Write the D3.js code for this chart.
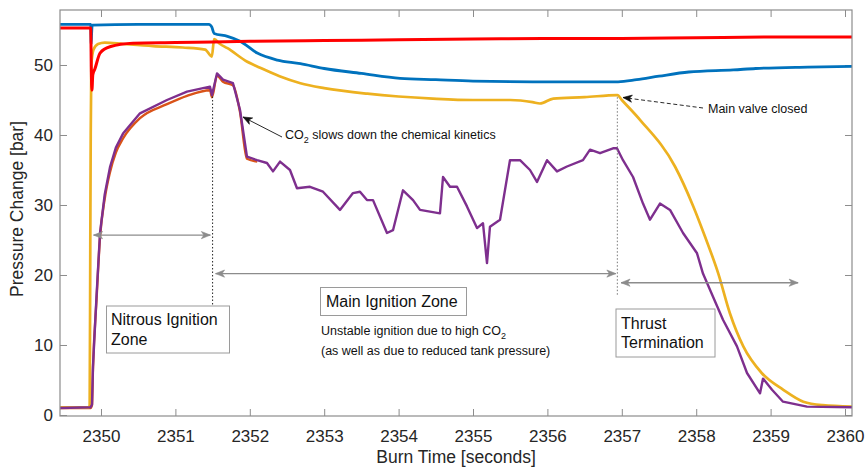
<!DOCTYPE html>
<html>
<head>
<meta charset="utf-8">
<script src="https://cdn.jsdelivr.net/npm/d3@7/dist/d3.min.js"></script>
<style>
  html, body { margin: 0; padding: 0; background: #fff; }
  svg { display: block; font-family: "Liberation Sans", Arial, Helvetica, sans-serif; }
</style>
</head>
<body>
<svg id="chart" width="866" height="468"></svg>
<script>
// ---------------- DATA ----------------
const xTickValues = [2350, 2351, 2352, 2353, 2354, 2355, 2356, 2357, 2358, 2359, 2360];
const yTickValues = [0, 10, 20, 30, 40, 50];

const blueTime = [2349.449, 2349.862, 2349.868, 2349.874, 2349.882, 2350.5, 2351.0, 2351.45, 2351.49, 2351.52,
  2351.7, 2351.87, 2352.1, 2352.37, 2352.68, 2353.0, 2353.5, 2354.02, 2354.5, 2355.0, 2355.8, 2356.5, 2356.95,
  2357.2, 2357.5, 2357.9, 2358.5, 2358.8, 2359.5, 2360.094];
const bluePressure = [55.8, 55.8, 53.0, 54.5, 55.7, 55.8, 55.8, 55.8, 55.4, 54.5,
  54.1, 53.4, 51.7, 50.7, 50.2, 49.5, 48.8, 48.1, 47.9, 47.7, 47.6, 47.6, 47.6,
  47.9, 48.4, 49.0, 49.3, 49.5, 49.7, 49.8];

const redTime = [2349.449, 2349.862, 2349.870, 2349.878, 2349.890, 2349.92, 2349.987, 2350.12, 2350.43,
  2351.0, 2351.5, 2352.0, 2353.0, 2354.0, 2355.0, 2356.0, 2357.0, 2358.0, 2359.0, 2360.094];
const redPressure = [55.3, 55.3, 49.0, 46.4, 48.6, 49.5, 51.7, 52.6, 53.1,
  53.2, 53.3, 53.4, 53.5, 53.6, 53.7, 53.8, 53.8, 53.9, 54.0, 54.0];

const yellowTime = [2349.449, 2349.835, 2349.848, 2349.856, 2349.862, 2349.870, 2349.90, 2349.96, 2350.05,
  2350.3, 2350.7, 2351.1, 2351.40, 2351.49, 2351.52, 2351.6, 2351.7, 2351.96, 2352.14, 2352.4, 2352.68,
  2353.0, 2353.58, 2354.0, 2354.46, 2355.0, 2355.5, 2355.8, 2355.9, 2356.08, 2356.5, 2356.94, 2357.0, 2357.25,
  2357.715, 2357.961, 2358.118, 2358.297, 2358.454, 2358.633, 2358.88, 2359.171, 2359.44, 2359.7, 2360.094];
const yellowPressure = [1.1, 1.1, 1.4, 24.0, 40.0, 50.0, 52.2, 53.0, 53.2,
  53.0, 52.7, 52.5, 52.2, 51.2, 53.7, 53.0, 52.4, 50.5, 49.6, 48.4, 47.4,
  46.7, 45.9, 45.5, 45.2, 45.0, 45.0, 44.7, 44.5, 45.2, 45.4, 45.7, 45.0, 42.1,
  35.5, 29.8, 25.5, 20.2, 14.5, 9.8, 6.0, 3.6, 1.9, 1.4, 1.2];

const purpleTime = [2349.449, 2349.86, 2349.879, 2349.892, 2349.94, 2349.987, 2350.05, 2350.121, 2350.2, 2350.296,
  2350.524, 2350.887, 2351.156, 2351.465, 2351.492, 2351.559, 2351.640, 2351.774, 2351.868, 2351.962,
  2352.097, 2352.231, 2352.312, 2352.406, 2352.540, 2352.634, 2352.809, 2352.984, 2353.212, 2353.387,
  2353.481, 2353.575, 2353.656, 2353.844, 2353.925, 2354.059, 2354.194, 2354.288, 2354.556, 2354.597,
  2354.691, 2354.785, 2354.919, 2355.054, 2355.134, 2355.188, 2355.228, 2355.363, 2355.497, 2355.632,
  2355.766, 2355.860, 2355.995, 2356.129, 2356.263, 2356.478, 2356.573, 2356.707, 2356.882, 2356.935,
  2357.016, 2357.151, 2357.285, 2357.379, 2357.513, 2357.648, 2357.823, 2358.011, 2358.091, 2358.226,
  2358.360, 2358.548, 2358.683, 2358.858, 2358.898, 2359.019, 2359.167, 2359.489, 2360.094];
const purplePressure = [1.0, 1.1, 1.5, 6.9, 17.0, 26.0, 31.5, 35.4, 38.2, 40.2,
  43.1, 45.0, 46.2, 46.9, 45.7, 48.8, 47.9, 47.4, 43.6, 36.9,
  36.4, 36.0, 34.8, 36.2, 35.0, 32.4, 32.6, 31.9, 29.3, 31.7,
  31.9, 30.7, 30.7, 26.0, 26.4, 32.1, 30.7, 29.3, 28.8, 34.0,
  32.6, 32.6, 29.8, 26.7, 27.4, 21.7, 26.9, 27.9, 36.4, 36.4,
  35.0, 33.3, 36.4, 34.8, 35.5, 36.4, 37.9, 37.4, 38.1, 38.1,
  36.4, 34.0, 30.2, 27.9, 30.2, 29.3, 26.0, 23.1, 20.2, 16.9,
  13.6, 9.8, 6.0, 3.1, 5.2, 3.6, 1.9, 1.2, 1.1];

const orangeTime = [2349.449, 2349.86, 2349.879, 2349.892, 2349.94, 2349.987, 2350.05, 2350.121, 2350.2, 2350.296,
  2350.524, 2350.887, 2351.156, 2351.465, 2351.492, 2351.559, 2351.640, 2351.774, 2351.868, 2351.962, 2352.1];
const orangePressure = [1.0, 1.0, 1.4, 6.5, 16.5, 25.4, 30.9, 34.7, 37.5, 39.5,
  42.4, 44.4, 45.6, 46.4, 45.4, 48.5, 47.6, 47.1, 43.3, 36.6, 36.2];

// ---------------- CHART ----------------
const svg = d3.select("#chart");
const L = 60, R = 852, T = 10, B = 416;
const x = d3.scaleLinear().domain([2349.449, 2360.094]).range([L, R]);
const y = d3.scaleLinear().domain([-0.143, 57.857]).range([B, T]);

const frameColor = "#8c8c8c";
const textColor = "#262626";

// axes
const axB = svg.append("g").attr("transform", `translate(0,${B})`)
  .call(d3.axisBottom(x).tickValues(xTickValues).tickFormat(d3.format("d")).tickSize(-7).tickPadding(14));
const axT = svg.append("g").attr("transform", `translate(0,${T})`)
  .call(d3.axisTop(x).tickValues(xTickValues).tickFormat("").tickSize(-7));
const axL = svg.append("g").attr("transform", `translate(${L},0)`)
  .call(d3.axisLeft(y).tickValues(yTickValues).tickSize(-7).tickPadding(7));
const axR = svg.append("g").attr("transform", `translate(${R},0)`)
  .call(d3.axisRight(y).tickValues(yTickValues).tickFormat("").tickSize(-7));
[axB, axT, axL, axR].forEach(g => {
  g.select(".domain").remove();
  g.selectAll(".tick line").attr("stroke", frameColor).attr("stroke-width", 1);
  g.selectAll(".tick text").attr("fill", textColor).style("font-size", "17px")
    .style("font-family", "'Liberation Sans', Arial, sans-serif");
});

// clip
svg.append("clipPath").attr("id", "plotclip").append("rect")
  .attr("x", L).attr("y", T).attr("width", R - L).attr("height", B - T);

const plot = svg.append("g").attr("clip-path", "url(#plotclip)");
const smooth = d3.line().x(d => x(d[0])).y(d => y(d[1])).curve(d3.curveMonotoneX);
const jagged = d3.line().x(d => x(d[0])).y(d => y(d[1]));
const zip = (a, b) => a.map((t, i) => [t, b[i]]);

const series = [
  { t: blueTime, v: bluePressure, color: "#0072BD", w: 2.8, gen: smooth },
  { t: orangeTime, v: orangePressure, color: "#D95319", w: 2.4, gen: smooth },
  { t: yellowTime, v: yellowPressure, color: "#EDB120", w: 2.7, gen: smooth },
  { t: purpleTime, v: purplePressure, color: "#7E2F8E", w: 2.4, gen: jagged },
  { t: redTime, v: redPressure, color: "#FF0000", w: 3.0, gen: smooth }
];
series.forEach(s => {
  plot.append("path").datum(zip(s.t, s.v))
    .attr("fill", "none").attr("stroke", s.color).attr("stroke-width", s.w)
    .attr("stroke-linejoin", "round").attr("d", s.gen);
});

// frame
svg.append("rect").attr("x", L).attr("y", T).attr("width", R - L).attr("height", B - T)
  .attr("fill", "none").attr("stroke", frameColor).attr("stroke-width", 1.2);

// axis titles
svg.append("text").attr("x", 456).attr("y", 463).attr("text-anchor", "middle")
  .attr("fill", textColor).style("font-size", "17.5px").text("Burn Time [seconds]");
svg.append("text").attr("transform", "translate(23,209) rotate(-90)").attr("text-anchor", "middle")
  .attr("fill", textColor).style("font-size", "17.5px").text("Pressure Change [bar]");

// ---------------- ANNOTATIONS ----------------
const defs = svg.append("defs");
function marker(id, color) {
  defs.append("marker").attr("id", id).attr("viewBox", "-10 -5 12 10")
    .attr("refX", 0).attr("refY", 0).attr("markerWidth", 12).attr("markerHeight", 10)
    .attr("markerUnits", "userSpaceOnUse").attr("orient", "auto-start-reverse")
    .append("path").attr("d", "M0,0 L-9,-3.6 L-6.5,0 L-9,3.6 Z").attr("fill", color).attr("stroke", color)
    .attr("stroke-width", 0.6);
}
marker("arrGrey", "#8c8c8c");
marker("arrBlack", "#111");

// dotted vertical lines
svg.append("line").attr("x1", x(2351.5)).attr("x2", x(2351.5)).attr("y1", y(45.5)).attr("y2", y(15.6))
  .attr("stroke", "#222").attr("stroke-width", 1).attr("stroke-dasharray", "1.5,2");
svg.append("line").attr("x1", x(2356.94)).attr("x2", x(2356.94)).attr("y1", y(45.4)).attr("y2", y(16.9))
  .attr("stroke", "#777").attr("stroke-width", 1).attr("stroke-dasharray", "1.5,2");

// double arrows
function dbl(t0, t1, v) {
  svg.append("line").attr("x1", x(t0)).attr("x2", x(t1)).attr("y1", y(v)).attr("y2", y(v))
    .attr("stroke", "#8c8c8c").attr("stroke-width", 1.4)
    .attr("marker-start", "url(#arrGrey)").attr("marker-end", "url(#arrGrey)");
}
dbl(2349.90, 2351.47, 25.7);
dbl(2351.54, 2356.92, 20.2);
dbl(2356.99, 2359.37, 18.9);

// text boxes
function box(x0, y0, w, h, lines, tx, baselines) {
  svg.append("rect").attr("x", x0).attr("y", y0).attr("width", w).attr("height", h)
    .attr("fill", "#fff").attr("stroke", "#9a9a9a").attr("stroke-width", 1);
  lines.forEach((s, i) => {
    svg.append("text").attr("x", tx).attr("y", baselines[i]).attr("fill", "#111")
      .style("font-size", "16px").text(s);
  });
}
box(106.5, 306, 123, 47, ["Nitrous Ignition", "Zone"], 111, [325, 344.5]);
box(320.5, 287.5, 146, 28, ["Main Ignition Zone"], 326, [306.5]);
box(616, 309, 99, 48, ["Thrust", "Termination"], 621, [328.5, 348]);

// CO2 text helper
function coText(t, before, after) {
  t.append("tspan").text(before + "CO");
  t.append("tspan").attr("dy", 4).style("font-size", "9px").text("2");
  t.append("tspan").attr("dy", -4).text(after);
}

// small annotations
coText(svg.append("text").attr("x", 285).attr("y", 139).attr("fill", "#111").style("font-size", "12.5px"),
  "", " slows down the chemical kinetics");
coText(svg.append("text").attr("x", 321).attr("y", 335).attr("fill", "#111").style("font-size", "12.5px"),
  "Unstable ignition due to high ", "");
svg.append("text").attr("x", 321).attr("y", 355).attr("fill", "#111").style("font-size", "12.5px")
  .text("(as well as due to reduced tank pressure)");
svg.append("text").attr("x", 708).attr("y", 113).attr("fill", "#111").style("font-size", "12.5px")
  .text("Main valve closed");

// black annotation arrows
svg.append("line").attr("x1", 282).attr("y1", 137).attr("x2", 243).attr("y2", 117)
  .attr("stroke", "#111").attr("stroke-width", 0.9).attr("marker-end", "url(#arrBlack)");
svg.append("line").attr("x1", 703).attr("y1", 108).attr("x2", 623).attr("y2", 97.5)
  .attr("stroke", "#111").attr("stroke-width", 0.9).attr("stroke-dasharray", "4,2.5")
  .attr("marker-end", "url(#arrBlack)");
</script>
</body>
</html>
